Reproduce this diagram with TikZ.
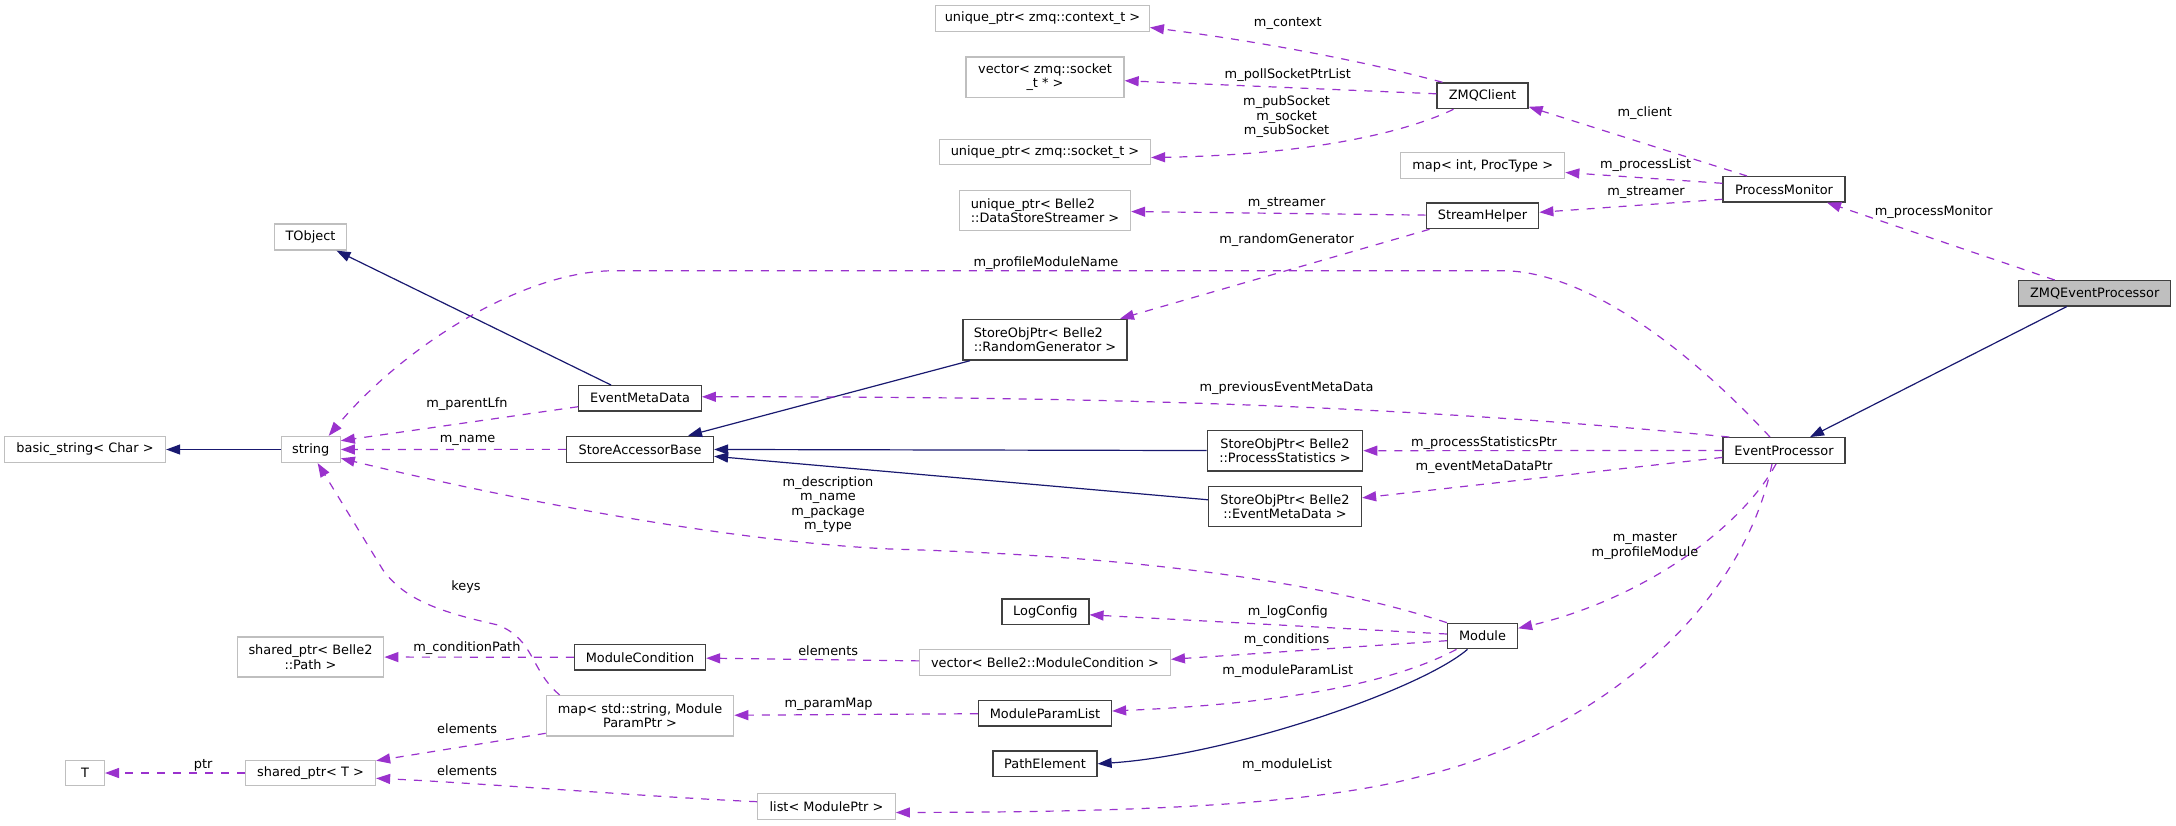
\documentclass[tikz,border=0pt]{standalone}
\usepackage{fontspec}
\setmainfont{DejaVu Sans}
\usetikzlibrary{arrows.meta}
\definecolor{inhblue}{HTML}{191970}
\definecolor{usepurple}{HTML}{9A32CD}
\definecolor{extgray}{HTML}{BFBFBF}
\definecolor{docborder}{HTML}{404040}
\definecolor{selfill}{HTML}{BFBFBF}
\tikzset{
  box/.style={draw, rectangle, inner sep=0pt, line width=1.3pt, font=\fontsize{12.9}{14.5}\selectfont, text=black},
  docbox/.style={box, draw=docborder},
  extbox/.style={box, draw=extgray},
  lbl/.style={inner sep=0pt, font=\fontsize{12.9}{14.5}\selectfont, text=black, align=center},
  inh/.style={draw=inhblue, line width=1.2pt, -{Triangle[length=14pt,width=10pt,fill=inhblue]}},
  use/.style={draw=usepurple, line width=1.2pt, dash pattern=on 8pt off 8pt, -{Triangle[length=14pt,width=10pt,fill=usepurple]}},
}
\begin{document}
\begin{tikzpicture}[x=1pt,y=-1pt]
\useasboundingbox (0,0) rectangle (2176,825);
% nodes
\node[extbox, minimum width=72pt, minimum height=26pt] (tobj) at (310.5,237) {TObject};
\node[extbox, minimum width=161pt, minimum height=26pt] (bstr) at (85,449.5) {basic\_string< Char >};
\node[extbox, minimum width=59pt, minimum height=26pt] (str) at (310.7,449.5) {string};
\node[docbox, minimum width=122.5pt, minimum height=25.3pt] (emd) at (640,398.3) {EventMetaData};
\node[docbox, minimum width=147pt, minimum height=26pt] (sab) at (640,449.3) {StoreAccessorBase};
\node[docbox, minimum width=164pt, minimum height=40.7pt, align=left] (srg) at (1045,339.7) {StoreObjPtr< Belle2\\::RandomGenerator >};
\node[extbox, minimum width=213.6pt, minimum height=25.7pt] (uctx) at (1042.5,18.5) {unique\_ptr< zmq::context\_t >};
\node[extbox, minimum width=158pt, minimum height=40.3pt, align=center] (vsock) at (1045,77.2) {vector< zmq::socket\\\_t * >};
\node[extbox, minimum width=211pt, minimum height=25.4pt] (usock) at (1045,152) {unique\_ptr< zmq::socket\_t >};
\node[extbox, minimum width=171pt, minimum height=39.6pt, align=left] (udss) at (1045,210.5) {unique\_ptr< Belle2\\::DataStoreStreamer >};
\node[docbox, minimum width=91pt, minimum height=25.7pt] (zmq) at (1482.5,95.8) {ZMQClient};
\node[extbox, minimum width=164pt, minimum height=25.6pt] (mapint) at (1482.7,165.5) {map< int, ProcType >};
\node[docbox, minimum width=122pt, minimum height=25.3pt] (pmon) at (1784,189.3) {ProcessMonitor};
\node[docbox, minimum width=112.5pt, minimum height=25.7pt] (sh) at (1482.5,215.8) {StreamHelper};
\node[docbox, fill=selfill, minimum width=152pt, minimum height=25.3pt] (zep) at (2094.7,293.3) {ZMQEventProcessor};
\node[docbox, minimum width=122pt, minimum height=25.6pt] (evp) at (1784,450.5) {EventProcessor};
\node[docbox, minimum width=155.4pt, minimum height=40.7pt, align=center] (sps) at (1285,450.7) {StoreObjPtr< Belle2\\::ProcessStatistics >};
\node[docbox, minimum width=153pt, minimum height=40.4pt, align=center] (semd) at (1285,506.5) {StoreObjPtr< Belle2\\::EventMetaData >};
\node[docbox, minimum width=70pt, minimum height=25.4pt] (mod) at (1482.5,636) {Module};
\node[docbox, minimum width=87pt, minimum height=25.7pt] (logc) at (1045.4,611.8) {LogConfig};
\node[docbox, minimum width=131pt, minimum height=25.3pt] (modc) at (640,657.3) {ModuleCondition};
\node[extbox, minimum width=250.6pt, minimum height=25.6pt] (vmc) at (1045,662.5) {vector< Belle2::ModuleCondition >};
\node[extbox, minimum width=187.3pt, minimum height=40.3pt, align=center] (mapstr) at (640,715.8) {map< std::string, Module\\ParamPtr >};
\node[docbox, minimum width=133pt, minimum height=25.3pt] (mpl) at (1045,713.3) {ModuleParamList};
\node[docbox, minimum width=104pt, minimum height=25.7pt] (pel) at (1045,763.8) {PathElement};
\node[extbox, minimum width=137.4pt, minimum height=25.6pt] (lmp) at (826.5,806.5) {list< ModulePtr >};
\node[extbox, minimum width=146.5pt, minimum height=40pt, align=center] (spath) at (310.5,657) {shared\_ptr< Belle2\\::Path >};
\node[extbox, minimum width=38.7pt, minimum height=25.4pt] (tnode) at (85,773) {T};
\node[extbox, minimum width=130pt, minimum height=25.4pt] (sptr) at (310.5,773) {shared\_ptr< T >};
% inheritance edges
\draw[inh] ([xshift=-28pt]zep.south) -- ([xshift=26pt]evp.north);
\draw[inh] (str) -- (bstr);
\draw[inh] ([xshift=-29pt]emd.north) -- ([xshift=26pt]tobj.south);
\draw[inh] ([xshift=-75pt]srg.south) -- ([xshift=48pt]sab.north);
\draw[inh] (sps) -- (sab);
\draw[inh] (semd) -- ([yshift=-7pt]sab.east);
\draw[inh] ([xshift=-15pt]mod.south) .. controls (1420,690) and (1230,755) .. (pel.east);
% usage edges
\draw[use] ([xshift=-40pt]zmq.north) .. controls (1360,60) and (1250,40) .. ([yshift=-9pt]uctx.east);
\draw[use] ([yshift=2pt]zmq.west) -- ([yshift=-3.5pt]vsock.east);
\draw[use] ([xshift=-29pt]zmq.south) .. controls (1400,135) and (1300,155) .. ([yshift=-5.5pt]usock.east);
\draw[use] ([xshift=-37pt]pmon.north) -- ([yshift=-11pt]zmq.east);
\draw[use] ([yshift=6pt]pmon.west) -- ([yshift=-7pt]mapint.east);
\draw[use] ([yshift=-10pt]pmon.west) -- ([yshift=3.5pt]sh.east);
\draw[use] (sh) -- (udss);
\draw[use] ([xshift=-53pt]sh.south) -- ([xshift=75pt]srg.north);
\draw[use] ([xshift=-40pt]zep.north) -- ([xshift=43pt]pmon.south);
\draw[use] ([xshift=-14pt]evp.north) .. controls (1680,340) and (1580,270.7) .. (1502,270.7) -- (615,270.7) .. controls (520,270.7) and (400,350) .. ([xshift=18pt]str.north);
\draw[use] ([xshift=7pt]evp.north west) .. controls (1400,405) and (1100,396.5) .. ([yshift=1.5pt]emd.east);
\draw[use] (evp) -- (sps);
\draw[use] (evp) -- (semd);
\draw[use] ([xshift=-8pt]evp.south) .. controls (1740,530) and (1640,600) .. ([yshift=7.7pt]mod.east);
\draw[use] ([xshift=-12pt]evp.south) .. controls (1740,620) and (1580,740) .. (1418,777) .. controls (1300,808) and (1100,812) .. ([yshift=-6pt]lmp.east);
\draw[use] (mod.north west) .. controls (1300,575) and (1100,555) .. (890,549) .. controls (700,540) and (450,485) .. ([yshift=-8.8pt]str.east);
\draw[use] ([yshift=2pt]mod.west) -- ([yshift=-3pt]logc.east);
\draw[use] ([yshift=-4.7pt]mod.west) -- ([yshift=3.2pt]vmc.east);
\draw[use] ([xshift=-26pt]mod.south) .. controls (1380,690) and (1250,705) .. ([yshift=2.3pt]mpl.east);
\draw[use] (vmc) -- (modc);
\draw[use] (modc) -- (spath);
\draw[use] (mpl) -- (mapstr);
\draw[use] ([xshift=14pt]mapstr.north west) .. controls (530,670) and (535,640) .. (498,625) .. controls (440,612) and (405,600) .. (383,570) -- ([xshift=7pt]str.south);
\draw[use] ([yshift=-17.5pt]mapstr.west) -- ([yshift=12.3pt]sptr.east);
\draw[use] ([yshift=4.8pt]lmp.west) .. controls (650,797) and (480,783) .. ([yshift=-5.3pt]sptr.east);
\draw[use] (sptr) -- (tnode);
\draw[use] ([yshift=-8.4pt]emd.west) -- ([yshift=8.8pt]str.east);
\draw[use] (sab) -- (str);
% labels
\node[lbl] (lctx) at (1287.8,23.3) {m\_context};
\node[lbl] (lpoll) at (1287.8,74.7) {m\_pollSocketPtrList};
\node[lbl] (lsock) at (1286.6,116.7) {m\_pubSocket\\m\_socket\\m\_subSocket};
\node[lbl] (lclient) at (1644.8,112.7) {m\_client};
\node[lbl] (lplist) at (1645.6,164.7) {m\_processList};
\node[lbl] (lstra) at (1646,192.7) {m\_streamer};
\node[lbl] (lstrb) at (1286.6,203.7) {m\_streamer};
\node[lbl] (lrg) at (1286.6,239.7) {m\_randomGenerator};
\node[lbl] (lpm) at (1933.7,211.7) {m\_processMonitor};
\node[lbl] (lpmn) at (1046,262.7) {m\_profileModuleName};
\node[lbl] (lpemd) at (1286.6,388) {m\_previousEventMetaData};
\node[lbl] (lpsp) at (1484,442.7) {m\_processStatisticsPtr};
\node[lbl] (lemdp) at (1484,467.7) {m\_eventMetaDataPtr};
\node[lbl] (lmaster) at (1645,546) {m\_master\\m\_profileModule};
\node[lbl] (ldesc) at (828,504.7) {m\_description\\m\_name\\m\_package\\m\_type};
\node[lbl] (lplfn) at (466.9,404) {m\_parentLfn};
\node[lbl] (lname) at (467.6,440.7) {m\_name};
\node[lbl] (lkeys) at (466,586.7) {keys};
\node[lbl] (llog) at (1287.8,611.7) {m\_logConfig};
\node[lbl] (lcond) at (1286.6,640.3) {m\_conditions};
\node[lbl] (lelem) at (828.2,650.3) {elements};
\node[lbl] (lmpl) at (1287.8,670.7) {m\_moduleParamList};
\node[lbl] (lcp) at (466.9,648.3) {m\_conditionPath};
\node[lbl] (lpmap) at (828.6,704.7) {m\_paramMap};
\node[lbl] (lela) at (467.2,728.7) {elements};
\node[lbl] (lelb) at (467.2,770.7) {elements};
\node[lbl] (lptr) at (203.2,765) {ptr};
\node[lbl] (lml) at (1287,764.7) {m\_moduleList};
\end{tikzpicture}
\end{document}
